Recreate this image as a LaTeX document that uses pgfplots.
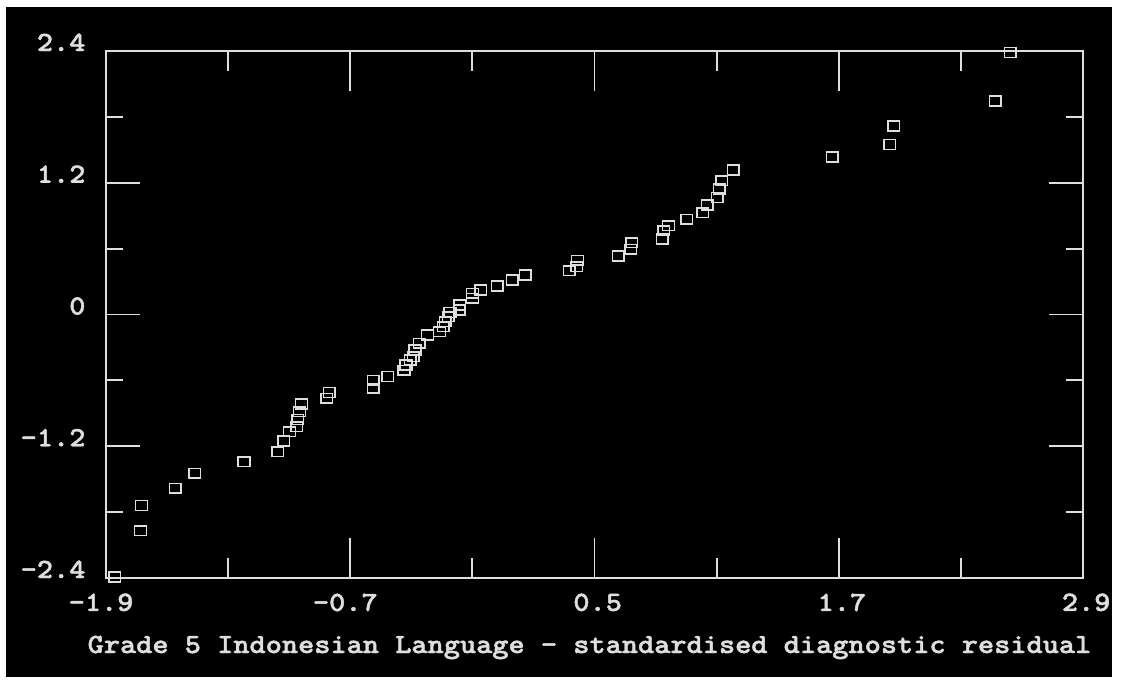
\documentclass[border=0pt]{standalone}
\usepackage{fontspec}
\usepackage{pgfplots}
\usepackage{pgfplotstable}
\pgfplotsset{compat=1.18}
\newfontfamily\pix{lmmonolt10-bold}[Extension=.otf, FakeStretch=1.11, FakeBold=1.6]
\definecolor{fg}{RGB}{222,222,222}
\pgfplotstableread{
x y
-1.856 -2.391
-1.730 -1.969
-1.725 -1.738
-1.560 -1.583
-1.463 -1.446
-1.222 -1.341
-1.056 -1.250
-1.027 -1.152
-0.999 -1.068
-0.962 -1.022
-0.958 -0.955
-0.950 -0.885
-0.939 -0.815
-0.816 -0.763
-0.803 -0.709
-0.587 -0.672
-0.587 -0.597
-0.516 -0.566
-0.436 -0.506
-0.426 -0.460
-0.406 -0.414
-0.390 -0.384
-0.382 -0.323
-0.361 -0.262
-0.321 -0.187
-0.262 -0.157
-0.243 -0.111
-0.234 -0.066
-0.218 -0.020
-0.210 0.017
-0.164 0.041
-0.161 0.087
-0.099 0.148
-0.099 0.193
-0.058 0.223
0.022 0.260
0.096 0.314
0.160 0.360
0.376 0.399
0.413 0.435
0.416 0.496
0.617 0.533
0.678 0.594
0.683 0.654
0.833 0.688
0.841 0.763
0.863 0.809
0.953 0.867
1.032 0.927
1.054 0.997
1.103 1.067
1.113 1.143
1.125 1.219
1.182 1.316
1.668 1.435
1.950 1.547
1.970 1.717
2.469 1.945
2.543 2.385
}\resid

\begin{document}
\begin{tikzpicture}
\fill[white] (0,0) rectangle (403.92pt,-244.44pt);
\useasboundingbox (0,0) rectangle (403.92pt,-244.44pt);
\fill[black] (2.16pt,-2.52pt) rectangle (400.32pt,-243.72pt);
\pgfplotsset{base/.style={
 at={(38.16pt,-208.08pt)}, anchor=south west,
 width=351.72pt, height=189.72pt, scale only axis,
 xmin=-1.9,xmax=2.9,ymin=-2.4,ymax=2.4,
 axis line style={draw=fg, line width=0.7pt},
 tick style={draw=fg, line width=0.7pt},
 tick align=inside,
 clip=false,
 font=\pix\fontsize{10}{12}\selectfont,
 every tick label/.append style={text=fg, inner sep=0pt},
}}
\begin{axis}[base,
 xtick={-1.9,-0.7,0.5,1.7,2.9},
 xticklabels={-1.9,-0.7,0.5,1.7,2.9},
 minor xtick={-1.3,-0.1,1.1,2.3},
 ytick=\empty,
 major tick length=14.4pt, minor tick length=7.2pt,
 xticklabel style={anchor=north east, xshift=10.08pt, yshift=-5.4pt},
 xlabel={Grade 5 Indonesian Language - standardised diagnostic residual},
 xlabel style={at={(axis description cs:0.5,0)}, anchor=base, yshift=-27pt, xshift=-1.8pt, inner sep=0pt, text=fg},
]
\addplot[only marks, mark=square, mark size=1.75pt, draw=fg, mark options={xscale=1.2, line width=0.5pt, draw=fg, fill=none}] table {\resid};
\end{axis}
\begin{axis}[base,
 xtick=\empty,
 ytick={-2.4,-1.2,0,1.2,2.4},
 yticklabels={-2.4,-1.2,0,1.2,2.4},
 minor ytick={-1.8,-0.6,0.6,1.8},
 major tick length=12.24pt, minor tick length=6.12pt,
 yticklabel style={anchor=base east, xshift=-7.2pt},
]
\end{axis}
\end{tikzpicture}
\end{document}
